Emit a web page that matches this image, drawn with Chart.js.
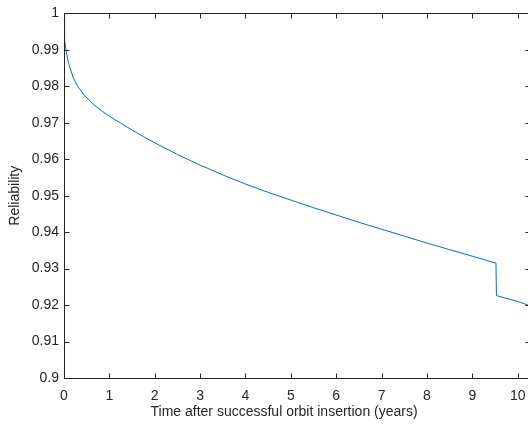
<!DOCTYPE html>
<html>
<head>
<meta charset="utf-8">
<script src="https://cdn.jsdelivr.net/npm/chart.js@4"></script>
<style>
  html, body { margin: 0; padding: 0; background: #fff; overflow: hidden; }
  #wrap { width: 541px; height: 424px; }
</style>
</head>
<body>
<div id="wrap"><canvas id="c" width="541" height="424"></canvas></div>
<script>
// Mission time since orbit insertion (years) and system reliability
const years = [0, 0.005, 0.02, 0.05, 0.1, 0.2, 0.3, 0.45, 0.65, 0.85, 1.0, 1.25, 1.5, 1.75, 2.0,
  2.5, 3.0, 3.5, 4.0, 4.5, 5.0, 5.5, 6.0, 6.5, 7.0, 7.5, 8.0, 8.5, 9.0, 9.52, 9.53, 10.0, 10.27];
const reliability = [1.0, 0.9965, 0.9928, 0.9895, 0.9863, 0.9825, 0.9800, 0.9775, 0.9750, 0.9731,
  0.9718, 0.9699, 0.9680, 0.9662, 0.9645, 0.9613, 0.9584, 0.9557, 0.9532, 0.9509, 0.9488, 0.9467,
  0.9447, 0.9427, 0.9408, 0.9389, 0.9370, 0.9352, 0.9334, 0.9315, 0.9226, 0.9210, 0.9198];

const xTickValues = [0, 1, 2, 3, 4, 5, 6, 7, 8, 9, 10];
const xTickLabels = ['0', '1', '2', '3', '4', '5', '6', '7', '8', '9', '10'];
const yTickValues = [0.9, 0.91, 0.92, 0.93, 0.94, 0.95, 0.96, 0.97, 0.98, 0.99, 1.0];
const yTickLabels = ['0.9', '0.91', '0.92', '0.93', '0.94', '0.95', '0.96', '0.97', '0.98', '0.99', '1'];

const xTitle = 'Time after successful orbit insertion (years)';
const yTitle = 'Reliability';

const AXIS = '#262626';
const FONT = "'Liberation Sans', Arial, Helvetica, sans-serif";
const TICK_LEN = 5;

// Boxed axes with inward tick marks on all four sides, plus the x label
const boxAxes = {
  id: 'boxAxes',
  afterDatasetsDraw(chart) {
    const { ctx, chartArea: a, scales: { x, y } } = chart;
    const L = Math.round(a.left) + 0.5, R = Math.round(a.right) + 0.5;
    const T = Math.round(a.top) + 0.5, B = Math.round(a.bottom) + 0.5;
    ctx.save();
    ctx.strokeStyle = AXIS;
    ctx.lineWidth = 1;
    ctx.beginPath();
    ctx.rect(L, T, R - L, B - T);
    xTickValues.forEach(v => {
      const px = Math.round(x.getPixelForValue(v)) + 0.5;
      ctx.moveTo(px, B); ctx.lineTo(px, B - TICK_LEN);
      ctx.moveTo(px, T); ctx.lineTo(px, T + TICK_LEN);
    });
    yTickValues.forEach(v => {
      const py = Math.round(y.getPixelForValue(v)) + 0.5;
      ctx.moveTo(L, py); ctx.lineTo(L + TICK_LEN, py);
      ctx.moveTo(R, py); ctx.lineTo(R - TICK_LEN, py);
    });
    ctx.stroke();

    ctx.fillStyle = AXIS;
    ctx.font = '14px ' + FONT;
    ctx.textAlign = 'center';
    ctx.textBaseline = 'middle';
    ctx.fillText(xTitle, x.getPixelForValue(4.85), 412);
    ctx.restore();
  }
};

new Chart(document.getElementById('c'), {
  type: 'line',
  data: {
    datasets: [{
      data: years.map((t, i) => ({ x: t, y: reliability[i] })),
      borderColor: '#0072BD',
      borderWidth: 1,
      pointRadius: 0,
      fill: false,
      tension: 0
    }]
  },
  options: {
    responsive: false,
    animation: false,
    devicePixelRatio: 1,
    layout: { padding: { top: 11, right: 11, left: 0, bottom: 0 } },
    plugins: { legend: { display: false }, tooltip: { enabled: false } },
    scales: {
      x: {
        type: 'linear',
        min: 0,
        max: 10.27,
        afterBuildTicks(s) { s.ticks = xTickValues.map(v => ({ value: v })); },
        afterFit(s) { s.height = 46; s.paddingLeft = 0; s.paddingRight = 0; },
        ticks: {
          callback: (v, i) => xTickLabels[i],
          color: AXIS,
          font: { family: FONT, size: 14 },
          padding: 10,
          maxRotation: 0,
          autoSkip: false
        },
        grid: { display: false, drawTicks: false },
        border: { display: false }
      },
      y: {
        type: 'linear',
        min: 0.9,
        max: 1.0,
        afterBuildTicks(s) { s.ticks = yTickValues.map(v => ({ value: v })); },
        afterFit(s) { s.width = 64; },
        ticks: {
          callback: (v, i) => yTickLabels[i],
          color: AXIS,
          font: { family: FONT, size: 14 },
          padding: 5,
          autoSkip: false
        },
        grid: { display: false, drawTicks: false },
        border: { display: false },
        title: {
          display: true,
          text: yTitle,
          color: AXIS,
          font: { family: FONT, size: 14 },
          padding: { top: 7, bottom: 0 }
        }
      }
    }
  },
  plugins: [boxAxes]
});
</script>
</body>
</html>
